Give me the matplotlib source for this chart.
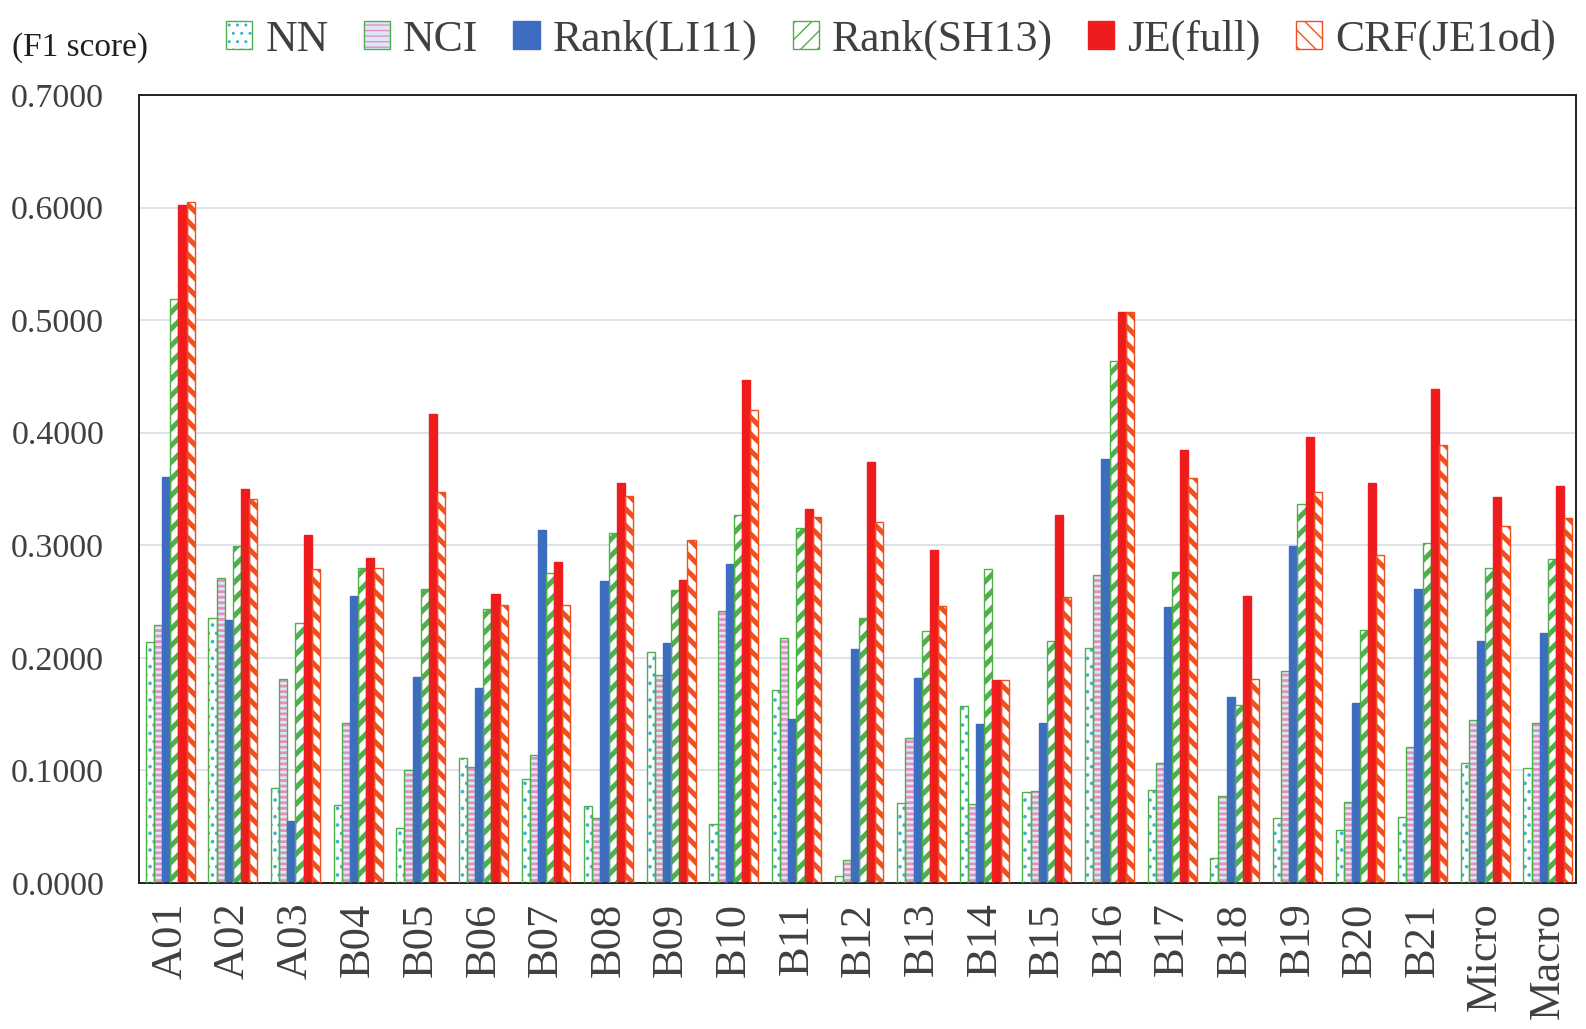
import matplotlib
matplotlib.use("Agg")
import matplotlib.pyplot as plt
import numpy as np
from matplotlib.ticker import FormatStrFormatter

categories = ["A01", "A02", "A03", "B04", "B05", "B06", "B07", "B08", "B09", "B10",
              "B11", "B12", "B13", "B14", "B15", "B16", "B17", "B18", "B19", "B20",
              "B21", "Micro", "Macro"]
series_names = ["NN", "NCI", "Rank(LI11)", "Rank(SH13)", "JE(full)", "CRF(JE1od)"]

nn = [0.214, 0.235, 0.084, 0.069, 0.049, 0.111, 0.092, 0.068, 0.205, 0.052,
      0.171, 0.006, 0.071, 0.157, 0.081, 0.209, 0.083, 0.022, 0.058, 0.047,
      0.059, 0.107, 0.102]
nci = [0.229, 0.271, 0.181, 0.142, 0.100, 0.103, 0.114, 0.058, 0.185, 0.242,
       0.218, 0.020, 0.129, 0.070, 0.082, 0.274, 0.107, 0.077, 0.188, 0.072,
       0.121, 0.145, 0.142]
rank_li11 = [0.361, 0.234, 0.055, 0.255, 0.183, 0.173, 0.314, 0.268, 0.213, 0.283,
             0.146, 0.208, 0.182, 0.141, 0.142, 0.377, 0.245, 0.165, 0.299, 0.160,
             0.261, 0.215, 0.222]
rank_sh13 = [0.519, 0.299, 0.231, 0.280, 0.261, 0.243, 0.275, 0.311, 0.260, 0.327,
             0.315, 0.235, 0.224, 0.279, 0.215, 0.464, 0.276, 0.158, 0.337, 0.225,
             0.302, 0.280, 0.288]
je_full = [0.602, 0.350, 0.309, 0.289, 0.417, 0.257, 0.285, 0.355, 0.269, 0.447,
           0.332, 0.374, 0.296, 0.180, 0.327, 0.507, 0.385, 0.255, 0.396, 0.355,
           0.439, 0.343, 0.353]
crf_je1od = [0.605, 0.341, 0.279, 0.280, 0.347, 0.247, 0.247, 0.344, 0.305, 0.420,
             0.325, 0.321, 0.246, 0.180, 0.254, 0.507, 0.360, 0.181, 0.347, 0.291,
             0.389, 0.317, 0.324]
yticks = [0.0, 0.1, 0.2, 0.3, 0.4, 0.5, 0.6, 0.7]

all_series = [nn, nci, rank_li11, rank_sh13, je_full, crf_je1od]

# style: (face, hatch, hatch color, outline color, hatch linewidth)
styles = [
    ("white", "..", "#35B5D5", "#4DB04A", 1.4),
    ("#DCE8F7", "---", "#E58FBF", "#4DB04A", 2.0),
    ("#3D6CC0", None, "#3D6CC0", "#3D6CC0", 1.0),
    ("white", "//", "#4DB04A", "#4DB04A", 3.6),
    ("#EE1C1C", None, "#EE1C1C", "#EE1C1C", 1.0),
    ("white", "\\\\", "#F0501E", "#F0501E", 3.6),
]

plt.rcParams["font.family"] = ["Liberation Serif", "DejaVu Serif"]
fig = plt.figure(figsize=(15.86, 10.29), dpi=100)
ax = fig.add_axes([0.0876, 0.1419, 0.9937 - 0.0876, 0.9077 - 0.1419])

x = np.arange(len(categories))
w = 0.13
handles = []
for i, (vals, st) in enumerate(zip(all_series, styles)):
    face, hatch, hcol, ocol, hlw = st
    pos = x + (i - 2.5) * w
    with plt.rc_context({"hatch.linewidth": hlw}):
        b1 = ax.bar(pos, vals, w, color=face, edgecolor=hcol, hatch=hatch,
                    linewidth=0, zorder=2)
    b2 = ax.bar(pos, vals, w, fill=False, edgecolor=ocol, linewidth=1.0, zorder=3)
    handles.append((b1[0], b2[0]))

ax.set_xlim(-0.5, 22.45)
ax.set_ylim(0, 0.7)
ax.set_yticks(yticks)
ax.yaxis.set_major_formatter(FormatStrFormatter("%.4f"))
ax.set_xticks(x)
ax.set_xticklabels(categories, rotation=90, fontsize=32, color="#404040")
ax.tick_params(axis="y", labelsize=24.5, colors="#404040", length=0, pad=25)
ax.tick_params(axis="x", length=0, pad=14)
ax.grid(axis="y", color="#D6DEE8", linewidth=1.2, zorder=0)
ax.set_axisbelow(True)
for s in ax.spines.values():
    s.set_color("#222222")
    s.set_linewidth(1.4)

fig.text(12 / 1586, 1 - 48 / 1029, "(F1 score)", fontsize=24, color="#202020",
         va="center", ha="left")

leg = fig.legend(handles, series_names, loc="upper right", ncol=6,
                 bbox_to_anchor=(1582 / 1586, 1.007), frameon=False,
                 fontsize=31.5, handlelength=0.6, handleheight=0.6,
                 handletextpad=0.3, columnspacing=0.8, borderaxespad=0.2,
                 labelcolor="#404040")

fig.savefig("out.png", dpi=100)
